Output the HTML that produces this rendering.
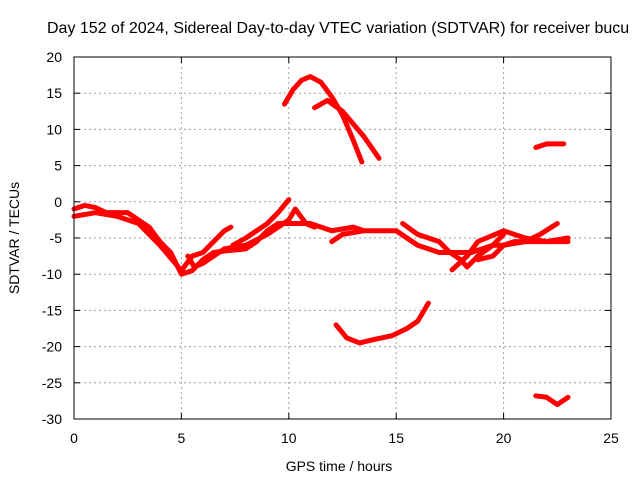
<!DOCTYPE html>
<html><head><meta charset="utf-8"><style>
body{margin:0;background:#fff;overflow:hidden;}
svg{font-family:"Liberation Sans",sans-serif;}
</style></head><body>
<svg id="c" width="640" height="480">
<text x="47" y="33" font-size="16" text-anchor="start">Day 152 of 2024, Sidereal Day-to-day VTEC variation (SDTVAR) for receiver bucu</text>
<text x="339" y="471" font-size="14" text-anchor="middle">GPS time / hours</text>
<text transform="translate(19,238) rotate(-90)" font-size="14" text-anchor="middle">SDTVAR / TECUs</text>
<g id="grid"></g><g id="marks"></g>
<rect x="74" y="57" width="537" height="362" fill="none" stroke="#000"/>
</svg>
<script>
const xTicks=[0,5,10,15,20,25];
const yTicks=[20,15,10,5,0,-5,-10,-15,-20,-25,-30];
const track1=[[0,-1],[0.5,-0.5],[1,-0.8],[1.5,-1.5],[2.5,-1.5],[3,-2.5],[3.5,-3.5],[4,-5.5],[4.5,-7],[5,-10],[5.5,-9.5],[6,-8],[6.5,-7],[7,-6.8],[8,-6.5],[8.5,-5.5],[9,-4],[9.5,-3],[10,-3],[11,-3],[11.5,-3.5],[12,-4],[13,-3.5],[13.5,-4],[15,-4],[15.5,-5],[16,-6],[17,-7],[18,-7],[18.5,-7],[19,-6.5],[19.5,-6],[20,-6],[20.5,-5.5],[23,-5.5]];
const track2=[[0,-2],[1,-1.5],[2,-2],[3,-3],[4,-6],[5,-9.5],[5.5,-7.5],[6,-7],[6.5,-5.5],[7,-4],[7.3,-3.5]];
const track3=[[7.4,-6],[8,-5],[9,-3],[9.5,-1.5],[10,0.3]];
const track4=[[5.3,-7.5],[5.6,-9],[6,-8.5],[7,-6.5],[8,-6],[9,-4.5],[10,-2.5],[10.3,-1],[10.8,-3],[11.2,-3.5]];
const track5=[[12,-5.5],[12.5,-4.5],[13.5,-4]];
const track6=[[15.3,-3],[16,-4.5],[17,-5.5],[17.5,-7],[18,-8],[18.3,-9],[18.8,-7.5],[19.5,-6],[20,-4.5]];
const track7=[[17.6,-9.4],[18.3,-7.5],[18.8,-5.5],[20,-4],[21,-5],[22,-5.5],[23,-5]];
const track8=[[18.8,-8],[19.5,-7.5],[20,-6],[21,-5.5],[21.7,-4.5],[22.5,-3]];
const track9=[[9.8,13.5],[10.2,15.5],[10.6,16.8],[11,17.3],[11.5,16.5],[12,14.5],[12.5,12],[13,8.5],[13.4,5.5]];
const track10=[[11.2,13],[11.8,14],[12.5,12.5],[13.5,9],[14.2,6]];
const track11=[[21.5,7.5],[22,8],[22.8,8]];
const track12=[[12.2,-17],[12.7,-18.8],[13.3,-19.5],[14,-19],[14.8,-18.5],[15.5,-17.5],[16,-16.5],[16.5,-14]];
const track13=[[21.5,-26.8],[22,-27],[22.5,-28],[23,-27]];
const series=[track1,track2,track3,track4,track5,track6,track7,track8,track9,track10,track11,track12,track13];
const NS='http://www.w3.org/2000/svg';
const X=h=>74+h*537/25, Y=v=>57+(20-v)*362/50;
const g=document.getElementById('grid'), m=document.getElementById('marks');
function mk(tag,attrs,parent){const e=document.createElementNS(NS,tag);for(const k in attrs)e.setAttribute(k,attrs[k]);parent.appendChild(e);return e;}
xTicks.forEach(t=>{
 if(t>0&&t<25){const l=mk('line',{x1:X(t),x2:X(t),y1:57,y2:419,stroke:'#a0a0a0','stroke-dasharray':'2,3'},g);
 
 }
 const tx=mk('text',{x:X(t),y:443,'font-size':14,'text-anchor':'middle'},g);tx.textContent=t;
 
 
 mk('line',{x1:X(t),x2:X(t),y1:419,y2:413,stroke:'#000'},g);mk('line',{x1:X(t),x2:X(t),y1:57,y2:63,stroke:'#000'},g);
});
yTicks.forEach(t=>{
 if(t<20&&t>-30){const l=mk('line',{x1:74,x2:611,y1:Y(t),y2:Y(t),stroke:'#a0a0a0','stroke-dasharray':'2,3'},g);
 
 }
 const tx=mk('text',{x:62,y:Y(t)+5,'font-size':14,'text-anchor':'end'},g);tx.textContent=t;
 
 
 mk('line',{x1:74,x2:80,y1:Y(t),y2:Y(t),stroke:'#000'},g);mk('line',{x1:605,x2:611,y1:Y(t),y2:Y(t),stroke:'#000'},g);
});
series.forEach(s=>{
 const p=mk('polyline',{points:s.map(d=>X(d[0])+','+Y(d[1])).join(' '),fill:'none',stroke:'#ff0000','stroke-width':5,'stroke-linejoin':'round','stroke-linecap':'round'},m);
 
 
});
</script>
</body></html>
